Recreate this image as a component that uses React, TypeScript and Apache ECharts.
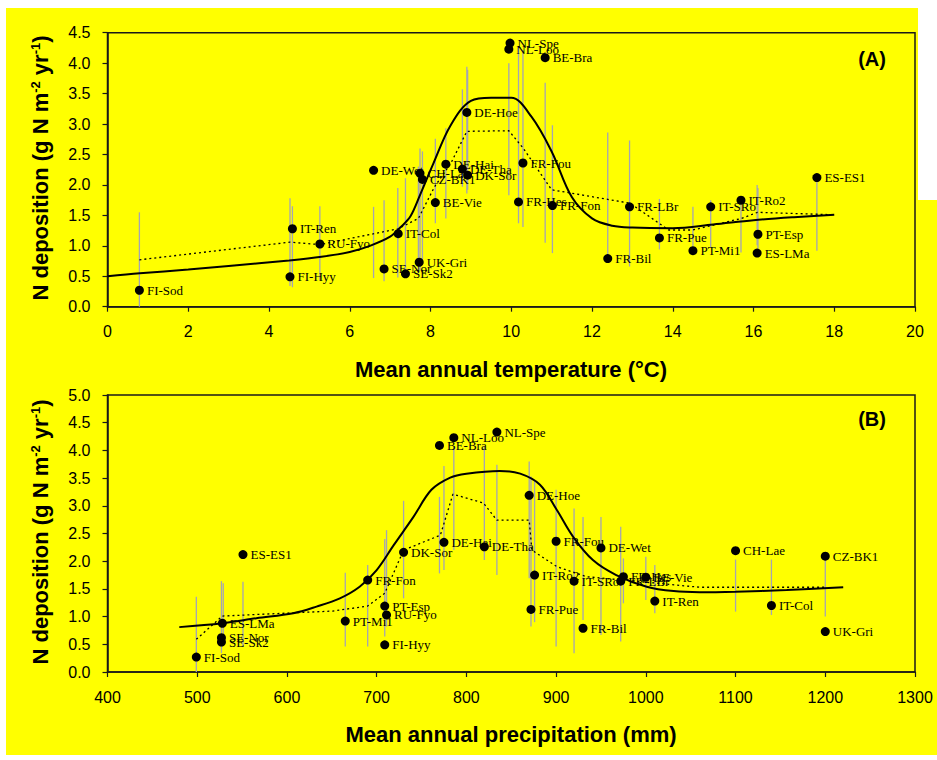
import React, { useEffect, useRef } from 'react';
import * as echarts from 'echarts';

// Sites (same order in every array below)
const sites = ['FI-Sod', 'IT-Ren', 'FI-Hyy', 'RU-Fyo', 'DE-Wet', 'SE-Nor', 'SE-Sk2', 'IT-Col', 'CH-Lae', 'CZ-BK1', 'UK-Gri', 'BE-Vie', 'DE-Hai', 'DE-Tha', 'DK-Sor', 'DE-Hoe', 'NL-Spe', 'NL-Loo', 'BE-Bra', 'FR-Fou', 'FR-Hes', 'FR-Fon', 'FR-LBr', 'FR-Bil', 'FR-Pue', 'PT-Mi1', 'IT-SRo', 'IT-Ro2', 'PT-Esp', 'ES-LMa', 'ES-ES1'];
const nDeposition = [0.27, 1.28, 0.49, 1.03, 2.24, 0.62, 0.54, 1.20, 2.19, 2.09, 0.73, 1.71, 2.34, 2.26, 2.16, 3.19, 4.33, 4.23, 4.09, 2.36, 1.72, 1.66, 1.64, 0.79, 1.13, 0.92, 1.64, 1.75, 1.19, 0.88, 2.12];
const meanTemp = [0.79, 4.58, 4.52, 5.26, 6.59, 6.85, 7.38, 7.2, 7.74, 7.8, 7.72, 8.12, 8.38, 8.79, 8.92, 8.9, 9.97, 9.94, 10.84, 10.29, 10.18, 11.02, 12.93, 12.39, 13.67, 14.5, 14.94, 15.69, 16.11, 16.09, 17.57];
const meanPrecip = [499, 1010, 709, 711, 950, 527, 527, 1140, 1100, 1200, 1200, 1000, 775, 820, 730, 870, 834, 786, 770, 900, 975, 690, 972, 930, 872, 665, 920, 876, 709, 528, 551];

// Range bars: [x, low, high]
const rangeTemp = [
  [0.79, 0, 1.55], [4.52, 0.34, 1.78], [4.58, 0.32, 1.65], [5.26, 0.44, 1.65], [6.59, 0.47, 1.64],
  [6.85, 0.42, 1.75], [7.19, 0.48, 1.95], [7.38, 0.48, 2.11], [7.7, 0.55, 2.3], [7.74, 0.6, 2.6],
  [7.8, 0.7, 2.55], [8.12, 1.37, 2.76], [8.38, 1.45, 2.93], [8.79, 1.97, 3.57], [8.9, 1.86, 3.94],
  [8.92, 1.92, 3.89], [9.94, 1.83, 4.0], [10.18, 1.37, 4.27], [10.29, 1.31, 4.21], [10.84, 1.05, 3.68],
  [11.02, 0.88, 2.98], [12.39, 0.77, 2.86], [12.93, 0.66, 2.73], [13.67, 0.94, 1.77], [14.5, 0.98, 1.64],
  [14.94, 0.98, 1.75], [15.69, 0.89, 1.81], [16.09, 1.01, 2.0], [16.11, 0.95, 1.95], [17.57, 0.92, 2.12],
];
const rangePrecip = [
  [499, 0, 1.36], [527, 0.34, 1.64], [529, 0.5, 1.6], [551, 0.46, 1.63], [665, 0.46, 1.79],
  [690, 0.46, 1.93], [709, 0.64, 2.4], [711, 0.82, 2.56], [730, 1.33, 3.09], [770, 1.78, 3.16],
  [775, 1.84, 3.72], [786, 2.2, 4.07], [820, 2.02, 4.07], [834, 1.75, 3.74], [870, 1.69, 3.8],
  [872, 0.82, 3.53], [876, 0.9, 3.45], [900, 0.46, 3.29], [920, 0.34, 2.95], [930, 0.94, 2.8],
  [950, 0.67, 2.8], [972, 0.55, 2.62], [975, 1.24, 2.05], [1000, 1.3, 2.08], [1010, 1.06, 1.93],
  [1100, 1.09, 2.03], [1140, 1.03, 2.03], [1200, 1.0, 2.09],
];

// Fitted curve (solid) and running mean (dotted)
const fitTemp = [[0, 0.5], [0.8, 0.55], [2, 0.61], [3, 0.67], [4.5, 0.76], [5.3, 0.82], [6, 0.9], [6.5, 1.0], [7, 1.15], [7.25, 1.3], [7.5, 1.48], [7.75, 1.85], [8.07, 2.35], [8.5, 2.98], [9, 3.38], [9.5, 3.43], [10, 3.43], [10.5, 3.12], [11, 2.55], [11.5, 1.8], [12, 1.45], [12.5, 1.33], [13, 1.3], [14, 1.29], [15, 1.35], [16, 1.42], [17, 1.47], [18, 1.51]];
const meanTempLine = [[0.79, 0.77], [4.52, 1.06], [5.26, 1.02], [7.2, 1.28], [7.7, 1.45], [8.1, 1.97], [8.5, 2.35], [8.9, 2.88], [9.94, 2.89], [10.3, 2.6], [11.0, 1.92], [12.94, 1.7], [13.9, 1.26], [14.5, 1.26], [15.7, 1.45], [16.1, 1.55], [18.0, 1.51]];
const fitPrecip = [[480, 0.81], [528, 0.88], [566, 0.97], [607, 1.06], [633, 1.18], [659, 1.33], [681, 1.54], [700, 1.84], [719, 2.29], [741, 2.8], [761, 3.29], [782, 3.51], [800, 3.58], [837, 3.63], [860, 3.58], [882, 3.38], [901, 2.92], [919, 2.44], [941, 2.02], [967, 1.75], [1001, 1.54], [1031, 1.46], [1060, 1.44], [1100, 1.45], [1157, 1.48], [1220, 1.53]];
const meanPrecipLine = [[499, 0.59], [528, 1.01], [651, 1.1], [690, 1.19], [709, 1.42], [730, 2.2], [771, 2.47], [785, 3.21], [819, 3.05], [834, 2.74], [870, 2.74], [873, 2.2], [901, 1.9], [934, 1.72], [975, 1.66], [1060, 1.53], [1200, 1.53]];

const SANS = '"Liberation Sans", Arial, sans-serif';
const SERIF = '"Liberation Serif", "Times New Roman", serif';
const AX = '#1a1a1a';

function axisCommon() {
  return {
    axisLine: { show: true, lineStyle: { color: AX, width: 1.5 } },
    axisTick: { show: true, inside: false, length: 5, lineStyle: { color: AX, width: 1.2 } },
    splitLine: { show: false },
  };
}

function panelSeries(idx: number, xs: number[], ranges: number[][], fit: number[][], meanLine: number[][]) {
  return [
    {
      type: 'custom',
      xAxisIndex: idx,
      yAxisIndex: idx,
      data: ranges,
      encode: { x: 0, y: [1, 2] },
      z: 1,
      renderItem: (params: any, api: any) => {
        const x = api.value(0);
        const p1 = api.coord([x, api.value(1)]);
        const p2 = api.coord([x, api.value(2)]);
        return {
          type: 'line',
          shape: { x1: p1[0], y1: p1[1], x2: p2[0], y2: p2[1] },
          style: { stroke: '#a4a4b4', lineWidth: 1.3 },
        };
      },
    },
    {
      type: 'line',
      xAxisIndex: idx,
      yAxisIndex: idx,
      data: fit,
      smooth: 0.35,
      symbol: 'none',
      lineStyle: { color: '#000', width: 2 },
      z: 2,
    },
    {
      type: 'line',
      xAxisIndex: idx,
      yAxisIndex: idx,
      data: meanLine,
      symbol: 'none',
      lineStyle: { color: '#000', width: 1.3, type: [2, 3] },
      z: 2,
    },
    {
      type: 'scatter',
      xAxisIndex: idx,
      yAxisIndex: idx,
      symbol: 'circle',
      symbolSize: 9,
      itemStyle: { color: '#000', opacity: 1 },
      z: 3,
      data: sites.map((s, i) => ({ name: s, value: [xs[i], nDeposition[i]] })),
      label: {
        show: true,
        position: 'right',
        distance: 3,
        formatter: '{b}',
        fontFamily: SERIF,
        fontSize: 13,
        color: '#000',
        opacity: 1,
      },
    },
  ];
}

function yTitle(cy: number) {
  return {
    type: 'text',
    x: 40,
    y: cy,
    rotation: Math.PI / 2,
    style: {
      text: 'N deposition (g N m{sup|-2} yr{sup|-1})',
      fontFamily: SANS,
      fontSize: 22,
      fontWeight: 'bold',
      fill: '#000',
      align: 'center',
      verticalAlign: 'middle',
      textAlign: 'center',
      textVerticalAlign: 'middle',
      rich: {
        sup: { fontFamily: SANS, fontSize: 13, fontWeight: 'bold', fill: '#000', verticalAlign: 'top' },
      },
    },
  };
}

function textEl(x: number, y: number, text: string, size: number) {
  return {
    type: 'text',
    x,
    y,
    style: {
      text,
      fontFamily: SANS,
      fontSize: size,
      fontWeight: 'bold',
      fill: '#000',
      align: 'center',
      verticalAlign: 'middle',
      textAlign: 'center',
      textVerticalAlign: 'middle',
    },
  };
}

export default function App() {
  const ref = useRef<HTMLDivElement>(null);
  useEffect(() => {
    const chart = echarts.init(ref.current!, null, { renderer: 'svg' });
    const option: any = {
      animation: false,
      backgroundColor: '#ffffff',
      graphic: {
        elements: [
          { type: 'rect', z: -100, shape: { x: 6, y: 8, width: 912, height: 200 }, style: { fill: '#ffff00' } },
          { type: 'rect', z: -100, shape: { x: 6, y: 200, width: 931, height: 555 }, style: { fill: '#ffff00' } },
          textEl(511, 369, 'Mean annual temperature (°C)', 22),
          textEl(511, 734, 'Mean annual precipitation (mm)', 22),
          textEl(872, 59, '(A)', 20),
          textEl(872, 419, '(B)', 20),
          yTitle(168),
          yTitle(532),
        ],
      },
      grid: [
        { left: 107.5, top: 32.7, width: 807.5, height: 274, show: true, borderColor: AX, borderWidth: 1.5, backgroundColor: 'transparent' },
        { left: 107.5, top: 395, width: 807.5, height: 277, show: true, borderColor: AX, borderWidth: 1.5, backgroundColor: 'transparent' },
      ],
      xAxis: [
        {
          type: 'value', gridIndex: 0, min: 0, max: 20, interval: 2, ...axisCommon(),
          axisLabel: { fontFamily: SANS, fontSize: 16, color: '#000', margin: 17, formatter: (v: number) => String(v) },
        },
        {
          type: 'value', gridIndex: 1, min: 400, max: 1300, interval: 100, ...axisCommon(),
          axisLabel: { fontFamily: SANS, fontSize: 16, color: '#000', margin: 17, formatter: (v: number) => String(v) },
        },
      ],
      yAxis: [
        {
          type: 'value', gridIndex: 0, min: 0, max: 4.5, interval: 0.5, ...axisCommon(),
          axisLabel: { fontFamily: SANS, fontSize: 16, color: '#000', margin: 17, formatter: (v: number) => v.toFixed(1) },
        },
        {
          type: 'value', gridIndex: 1, min: 0, max: 5, interval: 0.5, ...axisCommon(),
          axisLabel: { fontFamily: SANS, fontSize: 16, color: '#000', margin: 17, formatter: (v: number) => v.toFixed(1) },
        },
      ],
      series: [
        ...panelSeries(0, meanTemp, rangeTemp, fitTemp, meanTempLine),
        ...panelSeries(1, meanPrecip, rangePrecip, fitPrecip, meanPrecipLine),
      ],
    };
    chart.setOption(option);
    return () => chart.dispose();
  }, []);
  return <div ref={ref} style={{ position: 'absolute', left: 0, top: 0, width: 937, height: 760 }} />;
}
